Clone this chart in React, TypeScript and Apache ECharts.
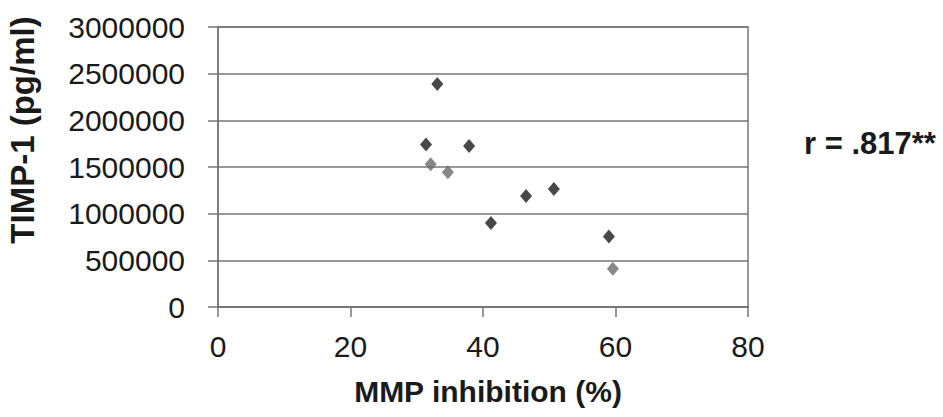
import React, { useEffect, useRef } from "react";
import * as echarts from "echarts";

const xTicks = [0, 20, 40, 60, 80];
const yTicks = [0, 500000, 1000000, 1500000, 2000000, 2500000, 3000000];

const darkX = [33.1, 31.4, 37.9, 41.2, 46.5, 50.7, 59.0];
const darkY = [2390000, 1740000, 1725000, 900000, 1190000, 1265000, 755000];

const grayX = [32.1, 34.7, 59.6];
const grayY = [1530000, 1445000, 410000];

const xTitle = "MMP inhibition (%)";
const yTitle = "TIMP-1 (pg/ml)";
const rLabel = "r = .817**";

const FONT = "'Liberation Sans', Arial, sans-serif";

export default function App() {
  const ref = useRef<HTMLDivElement>(null);
  useEffect(() => {
    document.body.style.margin = "0";
    const chart = echarts.init(ref.current!, null, { renderer: "svg" });
    const gridColor = "#767676";
    const textColor = "#1a1a1a";
    chart.setOption({
      animation: false,
      backgroundColor: "#ffffff",
      textStyle: { fontFamily: FONT },
      grid: {
        left: 218,
        top: 27,
        width: 530,
        height: 280,
        show: true,
        borderColor: gridColor,
        borderWidth: 1.5,
        backgroundColor: "transparent",
      },
      xAxis: {
        type: "value",
        min: xTicks[0],
        max: xTicks[xTicks.length - 1],
        interval: 20,
        axisLine: { show: true, onZero: false, lineStyle: { color: gridColor, width: 1.5 } },
        axisTick: { show: true, inside: false, length: 10, lineStyle: { color: gridColor, width: 1.5 } },
        splitLine: { show: false },
        axisLabel: {
          fontSize: 30,
          color: textColor,
          fontFamily: FONT,
          margin: 24,
          formatter: (v: number) => String(v),
        },
      },
      yAxis: {
        type: "value",
        min: yTicks[0],
        max: yTicks[yTicks.length - 1],
        interval: 500000,
        axisLine: { show: true, onZero: false, lineStyle: { color: gridColor, width: 1.5 } },
        axisTick: { show: true, inside: false, length: 10, lineStyle: { color: gridColor, width: 1.5 } },
        splitLine: { show: true, lineStyle: { color: gridColor, width: 1.5 } },
        axisLabel: {
          fontSize: 30,
          color: textColor,
          fontFamily: FONT,
          margin: 33,
          formatter: (v: number) => String(v),
        },
      },
      series: [
        {
          type: "scatter",
          symbol: "diamond",
          symbolSize: [12, 14],
          itemStyle: { color: "#1a1a1a" },
          data: darkX.map((x, i) => [x, darkY[i]]),
        },
        {
          type: "scatter",
          symbol: "diamond",
          symbolSize: [12, 14],
          itemStyle: { color: "#6a6a6a" },
          data: grayX.map((x, i) => [x, grayY[i]]),
        },
      ],
      graphic: [
        {
          type: "text",
          x: 22,
          y: 130,
          rotation: Math.PI / 2,
          style: {
            text: yTitle,
            fontSize: 33,
            fontWeight: "bold",
            fontFamily: FONT,
            fill: textColor,
            align: "center",
            verticalAlign: "middle",
          },
        },
        {
          type: "text",
          x: 488,
          y: 391,
          style: {
            text: xTitle,
            fontSize: 30,
            fontWeight: "bold",
            fontFamily: FONT,
            fill: textColor,
            align: "center",
            verticalAlign: "middle",
          },
        },
        {
          type: "text",
          x: 804,
          y: 143,
          style: {
            text: rLabel,
            fontSize: 31,
            fontWeight: "bold",
            fontFamily: FONT,
            fill: textColor,
            align: "left",
            verticalAlign: "middle",
          },
        },
      ],
    });
    return () => chart.dispose();
  }, []);
  return (
    <div
      ref={ref}
      style={{ position: "fixed", left: 0, top: 0, width: 943, height: 417 }}
    />
  );
}
